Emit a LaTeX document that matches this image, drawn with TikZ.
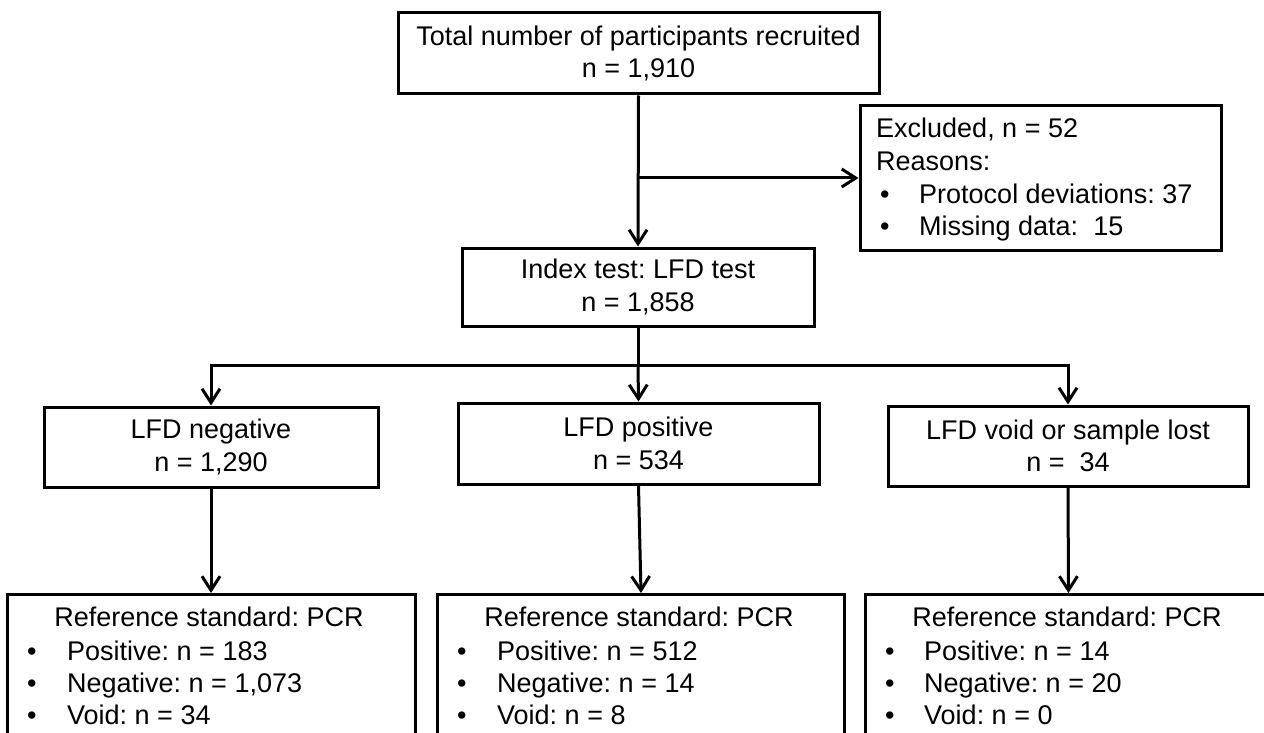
\documentclass[tikz,border=0pt]{standalone}
\usepackage{fontspec}
\setmainfont{Liberation Sans}
\usetikzlibrary{arrows.meta}
\newcommand{\flowfont}{\fontsize{27pt}{32.5pt}\selectfont\frenchspacing}
\begin{document}
\begin{tikzpicture}[x=1pt,y=-1pt,
  box/.style={draw=black, line width=3pt, inner sep=0pt, align=center, font=\flowfont},
  txt/.style={inner sep=0pt, anchor=base west, font=\flowfont},
  ctxt/.style={inner sep=0pt, anchor=base, font=\flowfont},
  arr/.style={draw=black, line width=3pt, -{Straight Barb[length=14pt,width=18pt]}}]
\useasboundingbox (0,0) rectangle (1264,733);
\clip (0,0) rectangle (1264,733);
\fill[white] (0,0) rectangle (1264,733);

% boxes
\node[box, minimum width=481pt, minimum height=81pt] (top) at (638.5,53.5)
  {Total number of participants recruited\\n = 1,910};
\node[box, minimum width=352pt, minimum height=78pt] (index) at (638,287)
  {Index test: LFD test\\n = 1,858};
\node[box, minimum width=361pt, minimum height=144pt] (excl) at (1040.5,178) {};
\node[box, minimum width=334pt, minimum height=80pt] (neg) at (211,447)
  {LFD negative\\n = 1,290};
\node[box, minimum width=361pt, minimum height=81pt] (pos) at (638.5,443.5)
  {LFD positive\\n = 534};
\node[box, minimum width=360pt, minimum height=80pt] (void) at (1068,446)
  {LFD void or sample lost\\n =\ \ 34};
\node[box, anchor=north, minimum width=408pt, minimum height=180pt] (pcrL) at (211,593) {};
\node[box, anchor=north, minimum width=407pt, minimum height=180pt] (pcrM) at (641,593) {};
\node[box, anchor=north, minimum width=407pt, minimum height=180pt] (pcrR) at (1068.5,593) {};

% excluded text
\node[txt] (e1) at (876,138) {Excluded, n = 52};
\node[txt] (e2) at (876,171) {Reasons:};
\node[txt] (e3b) at (880,203) {•};
\node[txt] (e3) at (919,203) {Protocol deviations: 37};
\node[txt] (e4b) at (880,235) {•};
\node[txt] (e4) at (919,235) {Missing data:\ \ 15};

% bottom left text
\node[ctxt] (l0) at (209,626) {Reference standard: PCR};
\node[txt] (l1b) at (27,660) {•};
\node[txt] (l1) at (67,660) {Positive: n = 183};
\node[txt] (l2b) at (27,692) {•};
\node[txt] (l2) at (67,692) {Negative: n = 1,073};
\node[txt] (l3b) at (27,724) {•};
\node[txt] (l3) at (67,724) {Void: n = 34};

% bottom middle text
\node[ctxt] (m0) at (639,626) {Reference standard: PCR};
\node[txt] (m1b) at (457,660) {•};
\node[txt] (m1) at (497,660) {Positive: n = 512};
\node[txt] (m2b) at (457,692) {•};
\node[txt] (m2) at (497,692) {Negative: n = 14};
\node[txt] (m3b) at (457,724) {•};
\node[txt] (m3) at (497,724) {Void: n = 8};

% bottom right text
\node[ctxt] (r0) at (1067,626) {Reference standard: PCR};
\node[txt] (r1b) at (885,660) {•};
\node[txt] (r1) at (924,660) {Positive: n = 14};
\node[txt] (r2b) at (885,692) {•};
\node[txt] (r2) at (924,692) {Negative: n = 20};
\node[txt] (r3b) at (885,724) {•};
\node[txt] (r3) at (924,724) {Void: n = 0};

% connectors
\draw[arr] (top.south) -- (index.north);
\coordinate (b) at (top.south |- excl.west);
\draw[arr] (b) -- (excl.west);
\coordinate (j) at (638,365);
\draw[line width=3pt] (index.south) -- (j);
\draw[arr] (j) -| (neg.north);
\draw[arr] (j) -- (pos.north);
\draw[arr] (j) -| (void.north);
\draw[arr] (neg.south) -- (pcrL.north);
\draw[arr] (pos.south) -- (pcrM.north);
\draw[arr] (void.south) -- (pcrR.north);
\end{tikzpicture}
\end{document}
